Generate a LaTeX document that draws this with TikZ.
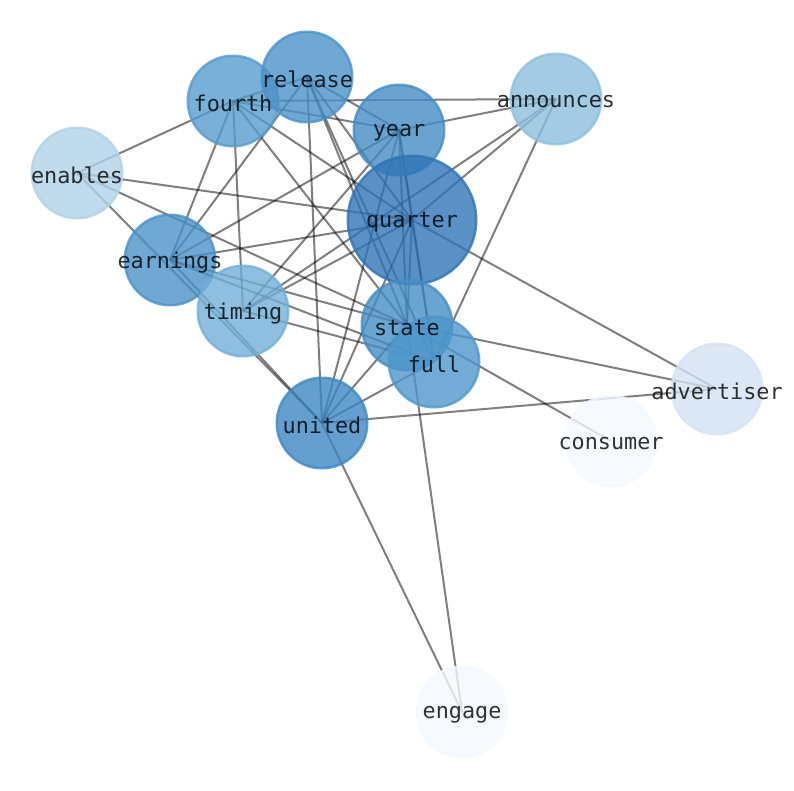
\documentclass[tikz,border=0pt]{standalone}
\usepackage{fontspec}
\setmonofont{DejaVu Sans Mono}
\definecolor{cRelease}{RGB}{75,146,200}
\definecolor{cFourth}{RGB}{86,156,206}
\definecolor{cYear}{RGB}{69,140,196}
\definecolor{cAnnounces}{RGB}{140,191,221}
\definecolor{cEnables}{RGB}{176,210,231}
\definecolor{cQuarter}{RGB}{47,116,182}
\definecolor{cEarnings}{RGB}{74,146,200}
\definecolor{cTiming}{RGB}{114,175,216}
\definecolor{cState}{RGB}{69,141,197}
\definecolor{cFull}{RGB}{79,151,204}
\definecolor{cUnited}{RGB}{62,135,195}
\definecolor{cAdvertiser}{RGB}{211,226,242}
\definecolor{cConsumer}{RGB}{244,249,255}
\definecolor{cEngage}{RGB}{244,249,255}
\begin{document}
\begin{tikzpicture}[x=1pt,y=-1pt,
  vtx/.style={circle,draw=#1,fill=#1,line width=2.5pt,minimum size=90.5pt,inner sep=0pt,opacity=0.8},
  bigvtx/.style={minimum size=128.5pt},
  lbl/.style={font=\ttfamily\fontsize{21.8}{24}\selectfont,text=black,text opacity=0.8,inner sep=0pt,yshift=-2.5pt},
  edge/.style={draw=black,draw opacity=0.5,line width=2pt}]
\useasboundingbox (0,0) rectangle (794,790);
% positions
\coordinate (release) at (307,77);
\coordinate (fourth) at (233,101);
\coordinate (year) at (399,130);
\coordinate (announces) at (556,99);
\coordinate (enables) at (77,173);
\coordinate (quarter) at (412,220);
\coordinate (earnings) at (170,260);
\coordinate (timing) at (243,311);
\coordinate (state) at (407,325);
\coordinate (full) at (434,362);
\coordinate (united) at (322,423);
\coordinate (advertiser) at (717,389);
\coordinate (consumer) at (611,441);
\coordinate (engage) at (462,712);
% edges
\foreach \a/\b in {enables/fourth, enables/quarter, enables/state, enables/united,
  earnings/fourth, earnings/release, earnings/year, earnings/quarter, earnings/state, earnings/full, earnings/united,
  fourth/release, fourth/announces, fourth/year, fourth/timing, fourth/state, fourth/quarter,
  release/year, release/quarter, release/state, release/full, release/united,
  year/announces, year/timing, year/united, year/state, year/full, year/quarter,
  quarter/announces, quarter/timing, quarter/advertiser, quarter/united, quarter/state, quarter/full,
  announces/timing, announces/full,
  timing/full,
  state/advertiser, state/consumer, state/engage, state/united,
  full/united,
  united/advertiser, united/engage}
  \draw[edge] (\a) -- (\b);
% nodes
\node[vtx=cEnables] (enables-c) at (enables) {};
\node[vtx=cFourth] (fourth-c) at (fourth) {};
\node[vtx=cRelease] (release-c) at (release) {};
\node[vtx=cYear] (year-c) at (year) {};
\node[vtx=cQuarter,bigvtx] (quarter-c) at (quarter) {};
\node[vtx=cAnnounces] (announces-c) at (announces) {};
\node[vtx=cEarnings] (earnings-c) at (earnings) {};
\node[vtx=cTiming] (timing-c) at (timing) {};
\node[vtx=cState] (state-c) at (state) {};
\node[vtx=cFull] (full-c) at (full) {};
\node[vtx=cUnited] (united-c) at (united) {};
\node[vtx=cAdvertiser] (advertiser-c) at (advertiser) {};
\node[vtx=cConsumer] (consumer-c) at (consumer) {};
\node[vtx=cEngage] (engage-c) at (engage) {};
% labels
\foreach \n in {enables,fourth,release,year,quarter,announces,earnings,timing,state,full,united,advertiser,consumer,engage}
  \node[lbl] (\n-l) at (\n) {\n};
\end{tikzpicture}
\end{document}
